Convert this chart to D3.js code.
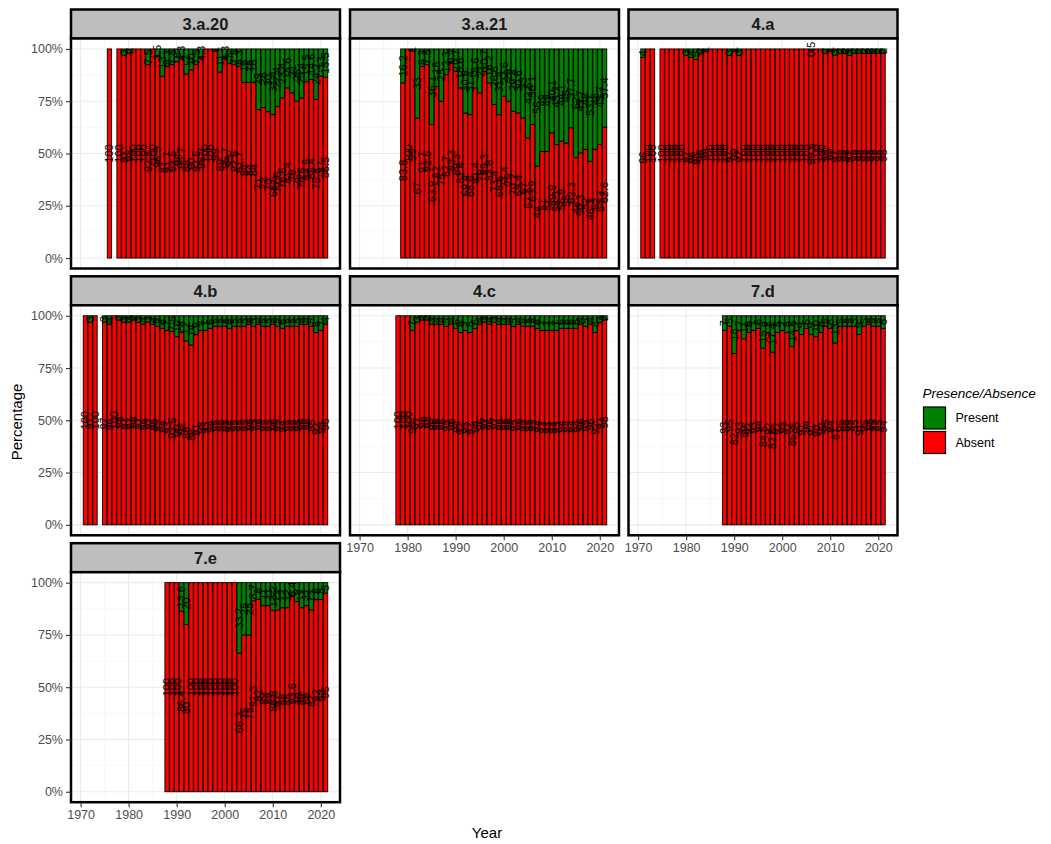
<!DOCTYPE html>
<html>
<head>
<meta charset="utf-8">
<script src="https://cdn.jsdelivr.net/npm/d3@7"></script>
<style>
  body { margin: 0; background: #fff; }
  svg text { font-family: "Liberation Sans", Arial, sans-serif; }
</style>
</head>
<body>
<div id="wrapper"></div>
<script>
// Facet names, in facet_wrap order (3 columns)
const panelNames = ["3.a.20", "3.a.21", "4.a", "4.b", "4.c", "7.d", "7.e"];

// Years surveyed in each facet
const years3a20 = [1976, ...d3.range(1978, 2022)];
const years3a21 = d3.range(1979, 2022);
const years4a = [1971, 1972, 1973, ...d3.range(1975, 2022)];
const years4b = [1971, 1972, 1973, ...d3.range(1975, 2022)];
const years4c = d3.range(1978, 2022);
const years7d = d3.range(1988, 2022);
const years7e = d3.range(1988, 2022);

// Percentage "Absent" per year (Present = 100 - Absent)
const absent3a20 = [100,
  100, 97, 98, 100, 100, 100, 92.5, 100, 96.5, 87,
  91.7, 92.5, 94, 95.7, 88, 90, 92.5, 95.7, 100, 100,
  99, 89, 95.7, 93, 92.5, 91.7, 84, 84, 84, 71,
  72, 70, 68.6, 72.6, 76.6, 81.4, 79, 75, 76.6, 84.5,
  85.4, 75.8, 87, 86.5];
const absent3a21 = [
  83.8, 100, 99, 67, 91.7, 92.5, 63.9, 82, 75, 87.7,
  93.3, 89.3, 81.4, 69.4, 68.6, 81.4, 79, 89.3, 83.8, 73.4,
  68.6, 77.4, 75, 70.2, 69.4, 67, 57.5, 63.9, 44, 51,
  51, 59.9, 54.3, 55.9, 55, 62.3, 48, 50.3, 52, 46.3,
  52, 54.3, 62.6];
const absent4a = [96, 100, 100,
  100, 100, 100, 100, 100, 97, 96, 95, 98, 99,
  100, 100, 100, 100, 97, 99, 97, 100, 100, 100,
  100, 100, 100, 100, 100, 100, 100, 100, 100, 100,
  100, 99.5, 100, 100, 98, 99, 97, 98, 98, 97,
  98, 98, 98, 98, 98, 98, 98];
const absent4b = [100, 97, 100,
  97, 96, 100, 98, 97, 97, 98, 97, 96, 97,
  96, 95, 94, 93, 92.5, 90, 92, 88, 86, 91,
  93, 93, 94, 95, 95, 95, 94, 95, 95, 95,
  96, 95, 96, 95, 95, 96, 95, 94, 95, 95,
  95, 96, 96, 95, 92, 93, 96];
const absent4c = [
  100, 100, 100, 93, 97, 98, 98, 96, 96, 96,
  95, 96, 94, 92, 93, 92, 94, 96, 97, 96,
  97, 96, 96, 96, 95, 96, 95, 95, 95, 94,
  93, 93, 93, 93, 94, 94, 94, 94, 96, 95,
  96, 92, 97, 98];
const absent7d = [
  93, 95, 82, 93, 89, 92, 93, 94, 84.5, 92,
  82.6, 92, 93, 92, 85.4, 93, 91, 94, 91, 90,
  92, 95, 94, 87, 95, 95, 95, 95, 91, 95,
  96, 95, 95, 94];
const absent7e = [
  100, 100, 100, 86.4, 80, 100, 100, 100, 100, 100,
  100, 100, 100, 100, 100, 66.3, 75, 75, 91.3, 92,
  89, 89, 86.8, 87, 88, 88, 93.6, 91, 88, 89,
  87, 92, 92, 95];

const panelYears = [years3a20, years3a21, years4a, years4b, years4c, years7d, years7e];
const panelAbsent = [absent3a20, absent3a21, absent4a, absent4b, absent4c, absent7d, absent7e];

const groups = ["Present", "Absent"];
const groupColors = ["#008000", "#FF0000"];
const xTicks = [1970, 1980, 1990, 2000, 2010, 2020];
const xMinor = [1975, 1985, 1995, 2005, 2015];
const yTicks = [0, 0.25, 0.5, 0.75, 1];
const yMinor = [0.125, 0.375, 0.625, 0.875];

function drawFacets() {
  // 1. Dimensions
  const dimensions = {
    width: 1051,
    height: 844,
    panelWidth: 269,
    panelHeight: 230,
    stripHeight: 29,
    colLeft: [71, 350, 628.5],
    rowTop: [38.5, 305.3, 572.2],
  };

  // 2. Canvas
  const wrapper = d3.select("#wrapper")
    .append("svg")
      .attr("width", dimensions.width)
      .attr("height", dimensions.height);

  // 3. Scales (shared by every facet)
  const xScale = d3.scaleLinear()
    .domain([1968, 2024])
    .range([0, dimensions.panelWidth]);
  const yScale = d3.scaleLinear()
    .domain([-0.05, 1.05])
    .range([dimensions.panelHeight, 0]);
  const barWidth = xScale(0.9) - xScale(0);
  const color = d3.scaleOrdinal().domain(groups).range(groupColors);
  const fmtLabel = v => String(Math.round(v * 10) / 10);

  const defs = wrapper.append("defs");

  panelNames.forEach((name, i) => {
    const col = i % 3;
    const row = Math.floor(i / 3);
    const left = dimensions.colLeft[col];
    const top = dimensions.rowTop[row];

    const rows = panelYears[i].map((year, j) => {
      const absent = panelAbsent[i][j];
      return { year, absent, present: Math.round((100 - absent) * 10) / 10 };
    });

    defs.append("clipPath")
        .attr("id", `clip-${i}`)
      .append("rect")
        .attr("width", dimensions.panelWidth)
        .attr("height", dimensions.panelHeight);

    const bounds = wrapper.append("g")
      .attr("transform", `translate(${left}, ${top})`);

    // strip
    bounds.append("rect")
      .attr("x", 0)
      .attr("y", -dimensions.stripHeight)
      .attr("width", dimensions.panelWidth)
      .attr("height", dimensions.stripHeight)
      .attr("fill", "#BEBEBE")
      .attr("stroke", "#000")
      .attr("stroke-width", 2.5);
    bounds.append("text")
      .attr("x", dimensions.panelWidth / 2)
      .attr("y", -dimensions.stripHeight / 2)
      .attr("dy", "0.36em")
      .attr("text-anchor", "middle")
      .attr("font-size", 16.5)
      .attr("font-weight", "bold")
      .attr("fill", "#1A1A1A")
      .text(name);

    const panel = bounds.append("g")
      .attr("clip-path", `url(#clip-${i})`);

    panel.append("rect")
      .attr("width", dimensions.panelWidth)
      .attr("height", dimensions.panelHeight)
      .attr("fill", "#fff");

    // grid
    panel.selectAll(".minor-x").data(xMinor).join("line")
      .attr("x1", d => xScale(d)).attr("x2", d => xScale(d))
      .attr("y1", 0).attr("y2", dimensions.panelHeight)
      .attr("stroke", "#F2F2F2").attr("stroke-width", 0.6);
    panel.selectAll(".minor-y").data(yMinor).join("line")
      .attr("x1", 0).attr("x2", dimensions.panelWidth)
      .attr("y1", d => yScale(d)).attr("y2", d => yScale(d))
      .attr("stroke", "#F2F2F2").attr("stroke-width", 0.6);
    panel.selectAll(".major-x").data(xTicks).join("line")
      .attr("x1", d => xScale(d)).attr("x2", d => xScale(d))
      .attr("y1", 0).attr("y2", dimensions.panelHeight)
      .attr("stroke", "#EBEBEB").attr("stroke-width", 1.1);
    panel.selectAll(".major-y").data(yTicks).join("line")
      .attr("x1", 0).attr("x2", dimensions.panelWidth)
      .attr("y1", d => yScale(d)).attr("y2", d => yScale(d))
      .attr("stroke", "#EBEBEB").attr("stroke-width", 1.1);

    // 4. Stacked bars: Absent at the bottom, Present on top
    const segments = [];
    rows.forEach(d => {
      segments.push({ year: d.year, group: "Absent", y0: 0, y1: d.absent / 100, value: d.absent });
      if (d.present > 0) {
        segments.push({ year: d.year, group: "Present", y0: d.absent / 100, y1: 1, value: d.present });
      }
    });

    panel.selectAll(".bar").data(segments).join("rect")
      .attr("x", d => xScale(d.year) - barWidth / 2)
      .attr("width", barWidth)
      .attr("y", d => yScale(d.y1))
      .attr("height", d => yScale(d.y0) - yScale(d.y1))
      .attr("fill", d => color(d.group))
      .attr("stroke", "#000")
      .attr("stroke-width", 0.9);

    // labels at the middle of each segment, turned 90 degrees
    panel.selectAll(".label").data(segments).join("text")
      .attr("transform", d => `translate(${xScale(d.year)}, ${yScale((d.y0 + d.y1) / 2)}) rotate(-90)`)
      .attr("text-anchor", "middle")
      .attr("dy", "0.35em")
      .attr("font-size", 11)
      .attr("fill", "#000")
      .text(d => fmtLabel(d.value));

    // panel border
    bounds.append("rect")
      .attr("width", dimensions.panelWidth)
      .attr("height", dimensions.panelHeight)
      .attr("fill", "none")
      .attr("stroke", "#000")
      .attr("stroke-width", 2.5);

    // 5. Axes
    if (col === 0) {
      const yAxis = bounds.append("g")
        .call(d3.axisLeft(yScale)
          .tickValues(yTicks)
          .tickFormat(d3.format(".0%"))
          .tickSize(5)
          .tickPadding(3));
      yAxis.select(".domain").remove();
      yAxis.selectAll("line").attr("stroke", "#333").attr("stroke-width", 1.1);
      yAxis.selectAll("text")
        .attr("fill", "#4D4D4D")
        .attr("font-size", 12.5)
        .style("font-family", "'Liberation Sans', Arial, sans-serif");
    }
    if (i + 3 >= panelNames.length) {
      const xAxis = bounds.append("g")
        .attr("transform", `translate(0, ${dimensions.panelHeight})`)
        .call(d3.axisBottom(xScale)
          .tickValues(xTicks)
          .tickFormat(d3.format("d"))
          .tickSize(5)
          .tickPadding(3));
      xAxis.select(".domain").remove();
      xAxis.selectAll("line").attr("stroke", "#333").attr("stroke-width", 1.1);
      xAxis.selectAll("text")
        .attr("fill", "#4D4D4D")
        .attr("font-size", 12.5)
        .style("font-family", "'Liberation Sans', Arial, sans-serif");
    }
  });

  // 6. Axis titles
  wrapper.append("text")
    .attr("transform", "translate(22, 422) rotate(-90)")
    .attr("text-anchor", "middle")
    .attr("font-size", 15)
    .attr("fill", "#000")
    .text("Percentage");
  wrapper.append("text")
    .attr("x", 487)
    .attr("y", 838)
    .attr("text-anchor", "middle")
    .attr("font-size", 15)
    .attr("fill", "#000")
    .text("Year");

  // 7. Legend
  const legend = wrapper.append("g")
    .attr("transform", "translate(922.5, 0)");
  legend.append("text")
    .attr("x", 0)
    .attr("y", 397.5)
    .attr("font-size", 13.5)
    .attr("font-style", "italic")
    .attr("fill", "#000")
    .text("Presence/Absence");
  const keys = legend.selectAll(".key").data(groups).join("g")
    .attr("transform", (d, k) => `translate(0, ${406 + k * 24.5})`);
  keys.append("rect")
    .attr("width", 24)
    .attr("height", 24)
    .attr("fill", "#fff");
  keys.append("rect")
    .attr("x", 1)
    .attr("y", 1)
    .attr("width", 22)
    .attr("height", 22)
    .attr("fill", d => color(d))
    .attr("stroke", "#000")
    .attr("stroke-width", 1.2);
  keys.append("text")
    .attr("x", 33)
    .attr("y", 12)
    .attr("dy", "0.35em")
    .attr("font-size", 12.5)
    .attr("fill", "#000")
    .text(d => d);
}
drawFacets();
</script>
</body>
</html>
